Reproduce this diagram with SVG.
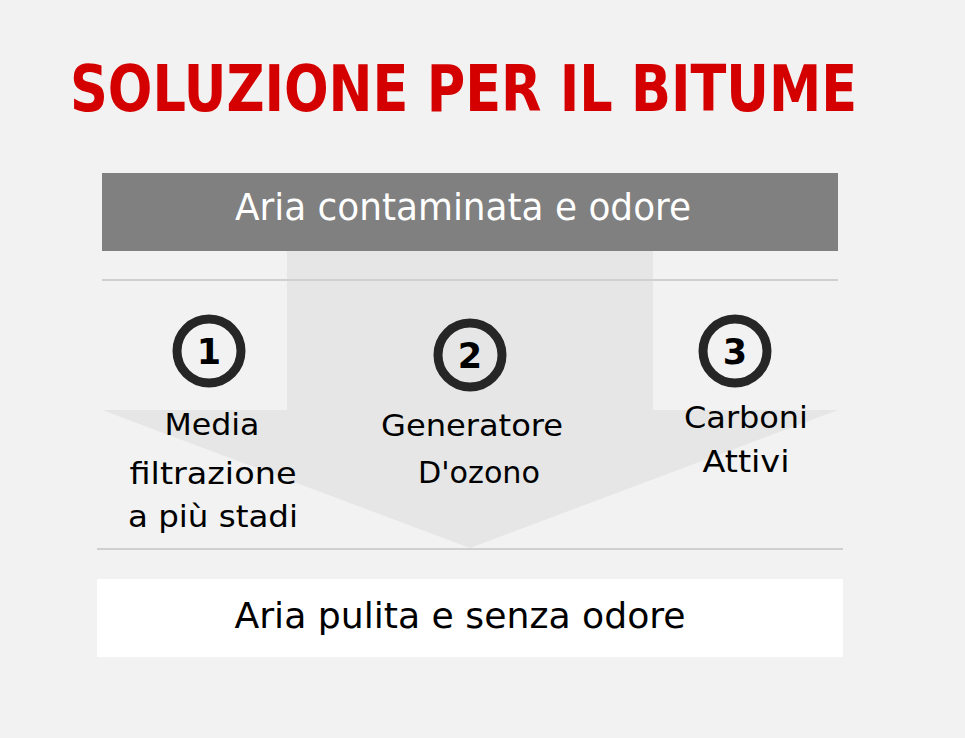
<svg xmlns="http://www.w3.org/2000/svg" width="965" height="738" viewBox="0 0 965 738">
<style>
.t{font-family:"DejaVu Sans Condensed","DejaVu Sans",sans-serif;}
.lbl{font-family:"DejaVu Sans Condensed","DejaVu Sans",sans-serif;font-size:31px;fill:#000;text-anchor:middle;}
.num{font-family:"DejaVu Sans","Liberation Sans",sans-serif;font-size:35px;font-weight:bold;fill:#000;text-anchor:middle;}
.ring{fill:none;stroke:#262626;stroke-width:9;}
.sep{stroke:#d0d0d0;stroke-width:2;}
</style>
<rect width="965" height="738" fill="#f2f2f2"/>
<text id="title" class="t" x="70" y="111" font-size="64" font-weight="bold" fill="#d40000" textLength="787" lengthAdjust="spacingAndGlyphs">SOLUZIONE PER IL BITUME</text>
<g id="flow-arrow">
<polygon points="287,251 653,251 653,410 838,410 470,548 102,410 287,410" fill="#e6e6e6"/>
</g>
<g id="connectors">
<line class="sep" x1="102" y1="280" x2="838" y2="280"/>
<line class="sep" x1="97" y1="549" x2="843" y2="549"/>
</g>
<g id="input">
<rect x="102" y="173" width="736" height="78" fill="#808080"/>
<text class="t" x="463" y="220" font-size="38" fill="#ffffff" text-anchor="middle" textLength="456" lengthAdjust="spacingAndGlyphs">Aria contaminata e odore</text>
</g>
<g id="step1">
<circle class="ring" cx="209" cy="351" r="32"/>
<text class="num" x="209" y="364">1</text>
<text class="lbl" x="212" y="435" textLength="95" lengthAdjust="spacingAndGlyphs">Media</text>
<text class="lbl" x="213" y="484" textLength="167" lengthAdjust="spacingAndGlyphs">filtrazione</text>
<text class="lbl" x="213" y="527" textLength="170" lengthAdjust="spacingAndGlyphs">a più stadi</text>
</g>
<g id="step2">
<circle class="ring" cx="470" cy="355" r="32"/>
<text class="num" x="470" y="368">2</text>
<text class="lbl" x="472" y="436" textLength="182" lengthAdjust="spacingAndGlyphs">Generatore</text>
<text class="lbl" x="479" y="483" textLength="122" lengthAdjust="spacingAndGlyphs">D'ozono</text>
</g>
<g id="step3">
<circle class="ring" cx="735" cy="351" r="32"/>
<text class="num" x="735" y="364">3</text>
<text class="lbl" x="746" y="428" textLength="124" lengthAdjust="spacingAndGlyphs">Carboni</text>
<text class="lbl" x="746" y="472" textLength="87" lengthAdjust="spacingAndGlyphs">Attivi</text>
</g>
<g id="output">
<rect x="97" y="579" width="746" height="78" fill="#ffffff"/>
<text class="t" x="460" y="628" font-size="36" fill="#000" text-anchor="middle" textLength="451" lengthAdjust="spacingAndGlyphs">Aria pulita e senza odore</text>
</g>
</svg>
